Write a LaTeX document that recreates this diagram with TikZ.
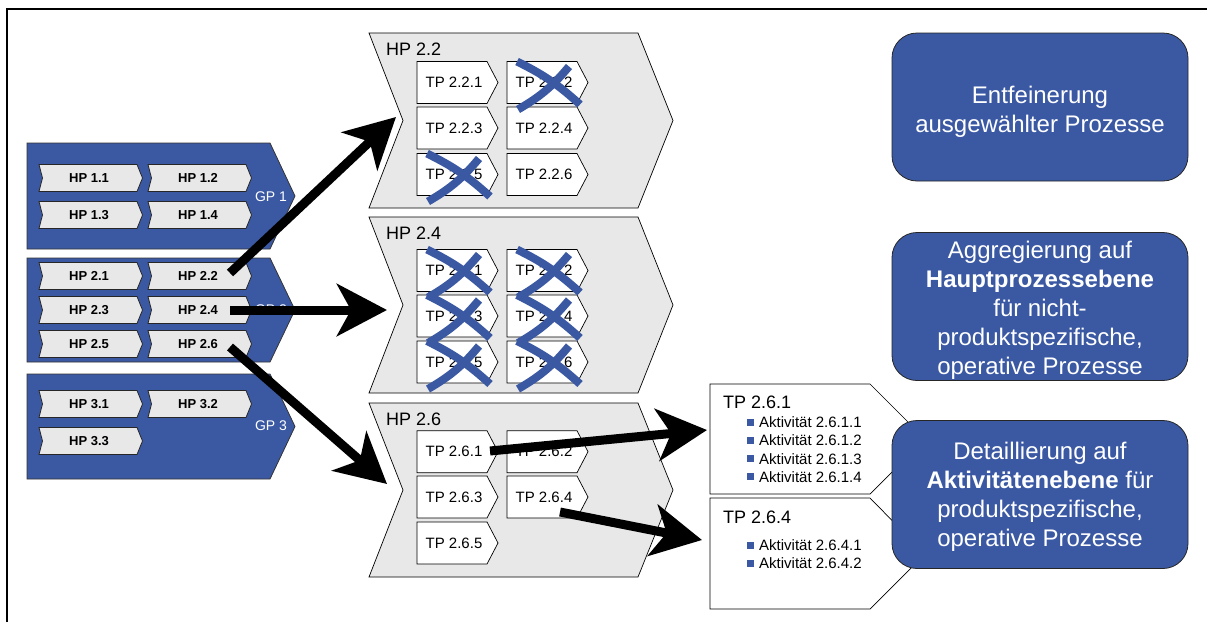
\documentclass[tikz,border=0pt]{standalone}
\usepackage{fontspec}
\setmainfont{Liberation Sans}
\usetikzlibrary{arrows.meta}
\definecolor{gpblue}{RGB}{59,89,163}
\definecolor{lgray}{RGB}{232,232,232}
\tikzset{
 gpbox/.style={fill=gpblue, draw=black!80, line width=0.8pt},
 hpsmall/.style={fill=lgray, draw=black!85, line width=0.8pt},
 hplabel/.style={font=\bfseries\fontsize{13}{15}\selectfont, inner sep=0pt},
 gplabel/.style={font=\fontsize{14}{16}\selectfont, text=white, inner sep=0pt},
 hpbig/.style={fill=lgray, draw=black, line width=0.7pt},
 hpbiglabel/.style={font=\fontsize{18}{20}\selectfont, anchor=west, inner sep=0pt},
 tpbox/.style={fill=white, draw=black, line width=0.7pt},
 tplabel/.style={font=\fontsize{15}{17}\selectfont, inner sep=0pt},
 tphead/.style={font=\fontsize{18}{20}\selectfont, anchor=west, inner sep=0pt},
 crossline/.style={draw=gpblue, line width=8pt},
 bigarrow/.style={line width=9pt, -{Stealth[length=50pt,width=52pt,inset=14pt]}},
 bluebox/.style={rectangle, fill=gpblue, draw=black!85, line width=0.8pt, rounded corners=25pt, minimum width=296pt, minimum height=148pt},
 boxtext/.style={font=\fontsize{24}{29}\selectfont, text=white, align=center, inner sep=0pt},
 acttext/.style={font=\fontsize{15}{18}\selectfont, anchor=west, inner sep=0pt},
 bulletsq/.style={rectangle, fill=gpblue, minimum size=7pt, inner sep=0pt},
}
\newcommand{\gpblock}[2]{%
 \draw[gpbox] (27,#1) -- (270,#1) -- (295,{(#1+#2)/2}) -- (270,#2) -- (27,#2) -- cycle;}
\newcommand{\hpchev}[4]{%
 \draw[hpsmall] (#2,#3) ++(0,-13.5) -- ++(98,0) -- ++(5.5,13.5) -- ++(-5.5,13.5) -- ++(-98,0) -- ++(3.5,-13.5) -- cycle;
 \node[hplabel] (#1) at (#2+50,#3) {#4};}
\newcommand{\bigchev}[2]{%
 \draw[hpbig] (369,#1) -- (638,#1) -- (673,{(#1+#2)/2}) -- (638,#2) -- (369,#2) -- (403,{(#1+#2)/2}) -- cycle;}
\newcommand{\tpchev}[4]{%
 \draw[tpbox] (#2,#3) ++(0,-21) -- ++(70,0) -- ++(11,21) -- ++(-11,21) -- ++(-70,0) -- cycle;
 \node[tplabel] (#1) at (#2+37,#3) {#4};}
\newcommand{\mycross}[2]{%
 \draw[crossline] (#1+10,#2-21) to[bend left=8] (#1+73,#2+22);
 \draw[crossline] (#1+62,#2-16) to[bend left=10] (#1+11,#2+27);}
\begin{document}
\begin{tikzpicture}[x=1pt,y=-1pt]
\useasboundingbox (0,0) rectangle (1207,622);
\draw[line width=2.2pt] (7,622) -- (7,9) -- (1207,9);

% GP blocks
\gpblock{143}{249}
\gpblock{258}{362}
\gpblock{374}{479}
\node[gplabel] (gp1) at (271,197) {GP 1};
\node[gplabel] (gp2) at (271,310) {GP 2};
\node[gplabel] (gp3) at (271,426) {GP 3};

\hpchev{hp11}{39}{178}{HP 1.1}
\hpchev{hp12}{148}{178}{HP 1.2}
\hpchev{hp13}{39}{215}{HP 1.3}
\hpchev{hp14}{148}{215}{HP 1.4}
\hpchev{hp21}{39}{276}{HP 2.1}
\hpchev{hp22}{148}{276}{HP 2.2}
\hpchev{hp23}{39}{310}{HP 2.3}
\hpchev{hp24}{148}{310}{HP 2.4}
\hpchev{hp25}{39}{344}{HP 2.5}
\hpchev{hp26}{148}{344}{HP 2.6}
\hpchev{hp31}{39}{404}{HP 3.1}
\hpchev{hp32}{148}{404}{HP 3.2}
\hpchev{hp33}{39}{441}{HP 3.3}

% big HP chevrons
\bigchev{33}{208}
\bigchev{217}{393}
\bigchev{403}{577}
\node[hpbiglabel] (big22) at (386,49) {HP 2.2};
\node[hpbiglabel] (big24) at (386,233) {HP 2.4};
\node[hpbiglabel] (big26) at (386,419) {HP 2.6};

\tpchev{tp221}{417}{82.5}{TP 2.2.1}
\tpchev{tp222}{507}{82.5}{TP 2.2.2}
\tpchev{tp223}{417}{128}{TP 2.2.3}
\tpchev{tp224}{507}{128}{TP 2.2.4}
\tpchev{tp225}{417}{174.5}{TP 2.2.5}
\tpchev{tp226}{507}{174.5}{TP 2.2.6}

\tpchev{tp241}{417}{270.5}{TP 2.4.1}
\tpchev{tp242}{507}{270.5}{TP 2.4.2}
\tpchev{tp243}{417}{316}{TP 2.4.3}
\tpchev{tp244}{507}{316}{TP 2.4.4}
\tpchev{tp245}{417}{362}{TP 2.4.5}
\tpchev{tp246}{507}{362}{TP 2.4.6}

\tpchev{tp261}{417}{451.7}{TP 2.6.1}
\tpchev{tp262}{507}{451.7}{TP 2.6.2}
\tpchev{tp263}{417}{497}{TP 2.6.3}
\tpchev{tp264}{507}{497}{TP 2.6.4}
\tpchev{tp265}{417}{543}{TP 2.6.5}

% crosses
\mycross{507}{82.5}
\mycross{417}{174.5}
\mycross{417}{270.5}
\mycross{507}{270.5}
\mycross{417}{316}
\mycross{507}{316}
\mycross{417}{362}
\mycross{507}{362}

% detail boxes
\draw[tpbox] (710,384) -- (870,384) -- (925,439) -- (870,494) -- (710,494) -- cycle;
\draw[tpbox] (710,498) -- (870,498) -- (925,554) -- (870,609) -- (710,609) -- cycle;
\node[tphead] (d261) at (723,402) {TP 2.6.1};
\node[tphead] (d264) at (723,517) {TP 2.6.4};
\foreach \n/\yy/\t in {1/422.3/Aktivität 2.6.1.1, 2/440.5/Aktivität 2.6.1.2, 3/458.7/Aktivität 2.6.1.3, 4/476.9/Aktivität 2.6.1.4, 5/545/Aktivität 2.6.4.1, 6/563.3/Aktivität 2.6.4.2}{
 \node[bulletsq] (bu\n) at (750.5,\yy) {};
 \node[acttext] (act\n) at (759,\yy) {\t};
}

% blue boxes
\node[bluebox] (b1) at (1040,107) {};
\node[boxtext] (b1t) at ([yshift=-5pt]b1.center) {Entfeinerung\\ausgewählter Prozesse};
\node[bluebox] (b2) at (1040,306.5) {};
\node[boxtext] (b2t) at ([yshift=-4pt]b2.center) {Aggregierung auf\\\textbf{Hauptprozessebene}\\für nicht-\\produktspezifische,\\operative Prozesse};
\node[bluebox] (b3) at (1040,494.5) {};
\node[boxtext] (b3t) at ([yshift=-2pt]b3.center) {Detaillierung auf\\\textbf{Aktivitätenebene} für\\produktspezifische,\\operative Prozesse};

% arrows
\coordinate (s1) at (230,273);
\coordinate (t1) at (396,117);
\coordinate (s2) at (230,310);
\coordinate (t2) at (387,310);
\coordinate (s3) at (230,347);
\coordinate (t3) at (387,484);
\coordinate (s4) at (490,451);
\coordinate (t4) at (707,430);
\coordinate (s5) at (560,512);
\coordinate (t5) at (702,540);
\draw[bigarrow] (s1) -- (t1);
\draw[bigarrow] (s2) -- (t2);
\draw[bigarrow] (s3) -- (t3);
\draw[bigarrow] (s4) -- (t4);
\draw[bigarrow] (s5) -- (t5);
\end{tikzpicture}
\end{document}
